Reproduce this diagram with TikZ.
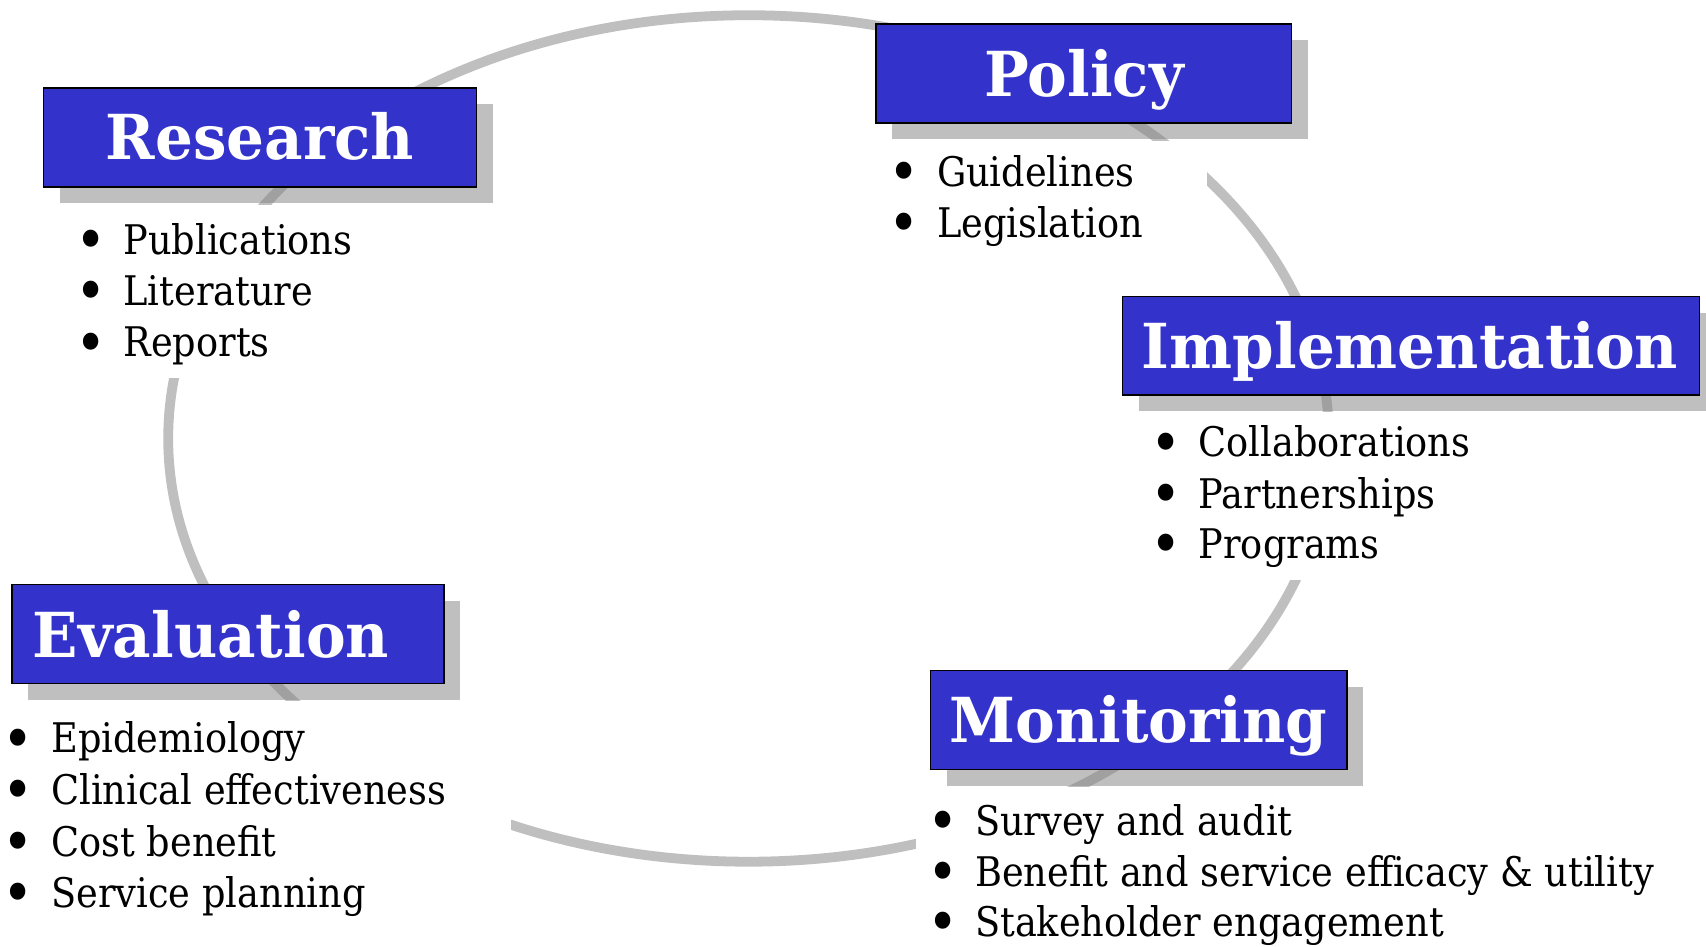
\documentclass[tikz,border=0pt]{standalone}
\usepackage{fontspec}
\setmainfont{DejaVu Serif}[FakeStretch=0.90]
\newfontfamily\headfont{DejaVu Serif}[FakeStretch=0.96]
\definecolor{boxblue}{HTML}{3333CC}
\definecolor{ringgray}{HTML}{BFBFBF}
\newcommand{\bul}{\makebox[0pt][c]{\fontsize{54}{40}\selectfont\raisebox{-5.7pt}{•}}}
\begin{document}
\begin{tikzpicture}[x=1pt,y=-1pt,
  ring/.style={draw=ringgray,line width=9pt},
  cover/.style={fill=white,draw=none},
  shadowbox/.style={fill=black!48,fill opacity=0.52,draw=none},
  headbox/.style={fill=boxblue,draw=black,line width=1.2pt,inner sep=0,minimum height=91pt},
  headtext/.style={text=white,font=\headfont\fontsize{57}{60}\selectfont\bfseries,inner sep=0},
  itemline/.style={font=\fontsize{37.5}{40}\selectfont,inner sep=0,anchor=base west}]
\useasboundingbox (0,0) rectangle (1568,870);
% ring
\draw[ring] (688,403) ellipse [x radius=533.4, y radius=389];
% white areas behind the lists
\fill[cover] (60,188) rectangle (345,347);
\fill[cover] (815,130) rectangle (1109,240);
\fill[cover] (1050,379) rectangle (1568,533);
\fill[cover] (0,644) rectangle (470,870);
\fill[cover] (842,723) rectangle (1568,870);
% shadows
\fill[shadowbox] (55,96) rectangle (453,187);
\fill[shadowbox] (820,37) rectangle (1202,128);
\fill[shadowbox] (1047,287.5) rectangle (1568,378);
\fill[shadowbox] (26,552) rectangle (423,643);
\fill[shadowbox] (870,631) rectangle (1253,722);
% boxes
\node[headbox,minimum width=398pt] (rbox) at (239,126.5) {};
\node[headbox,minimum width=382pt] (pbox) at (996,67.5) {};
\node[headbox,minimum width=530pt,minimum height=90.5pt] (ibox) at (1297,317.75) {};
\node[headbox,minimum width=397pt] (ebox) at (209.5,582.5) {};
\node[headbox,minimum width=383pt] (mbox) at (1046.5,661.5) {};
% titles
\node[headtext,anchor=base] (rtitle) at (239,147) {Research};
\node[headtext,anchor=base] (ptitle) at (996.5,89) {Policy};
\node[headtext,anchor=base] (ititle) at (1296,338.5) {Implementation};
\node[headtext,anchor=base west] (etitle) at (30,604) {Evaluation};
\node[headtext,anchor=base] (mtitle) at (1046.5,682) {Monitoring};
% Research items
\node[itemline] (ri1) at (83.4,234) {\bul\hspace{29.9pt}Publications};
\node[itemline] (ri2) at (83.4,281) {\bul\hspace{29.9pt}Literature};
\node[itemline] (ri3) at (83.4,328) {\bul\hspace{29.9pt}Reports};
% Policy items
\node[itemline] (pi1) at (831,171) {\bul\hspace{30pt}Guidelines};
\node[itemline] (pi2) at (831,218) {\bul\hspace{30pt}Legislation};
% Implementation items
\node[itemline] (ii1) at (1072,420) {\bul\hspace{29.5pt}Collaborations};
\node[itemline] (ii2) at (1072,467) {\bul\hspace{29.5pt}Partnerships};
\node[itemline] (ii3) at (1072,513) {\bul\hspace{29.5pt}Programs};
% Evaluation items
\node[itemline] (ei1) at (16.4,692) {\bul\hspace{30.6pt}Epidemiology};
\node[itemline] (ei2) at (16.4,739) {\bul\hspace{30.6pt}Clinical effectiveness};
\node[itemline] (ei3) at (16.4,787) {\bul\hspace{30.6pt}Cost benefit};
\node[itemline] (ei4) at (16.4,834) {\bul\hspace{30.6pt}Service planning};
% Monitoring items
\node[itemline] (mi1) at (867,767.5) {\bul\hspace{29pt}Survey and audit};
\node[itemline] (mi2) at (867,815) {\bul\hspace{29pt}Benefit and service efficacy \& utility};
\node[itemline] (mi3) at (867,861) {\bul\hspace{29pt}Stakeholder engagement};
\end{tikzpicture}
\end{document}
